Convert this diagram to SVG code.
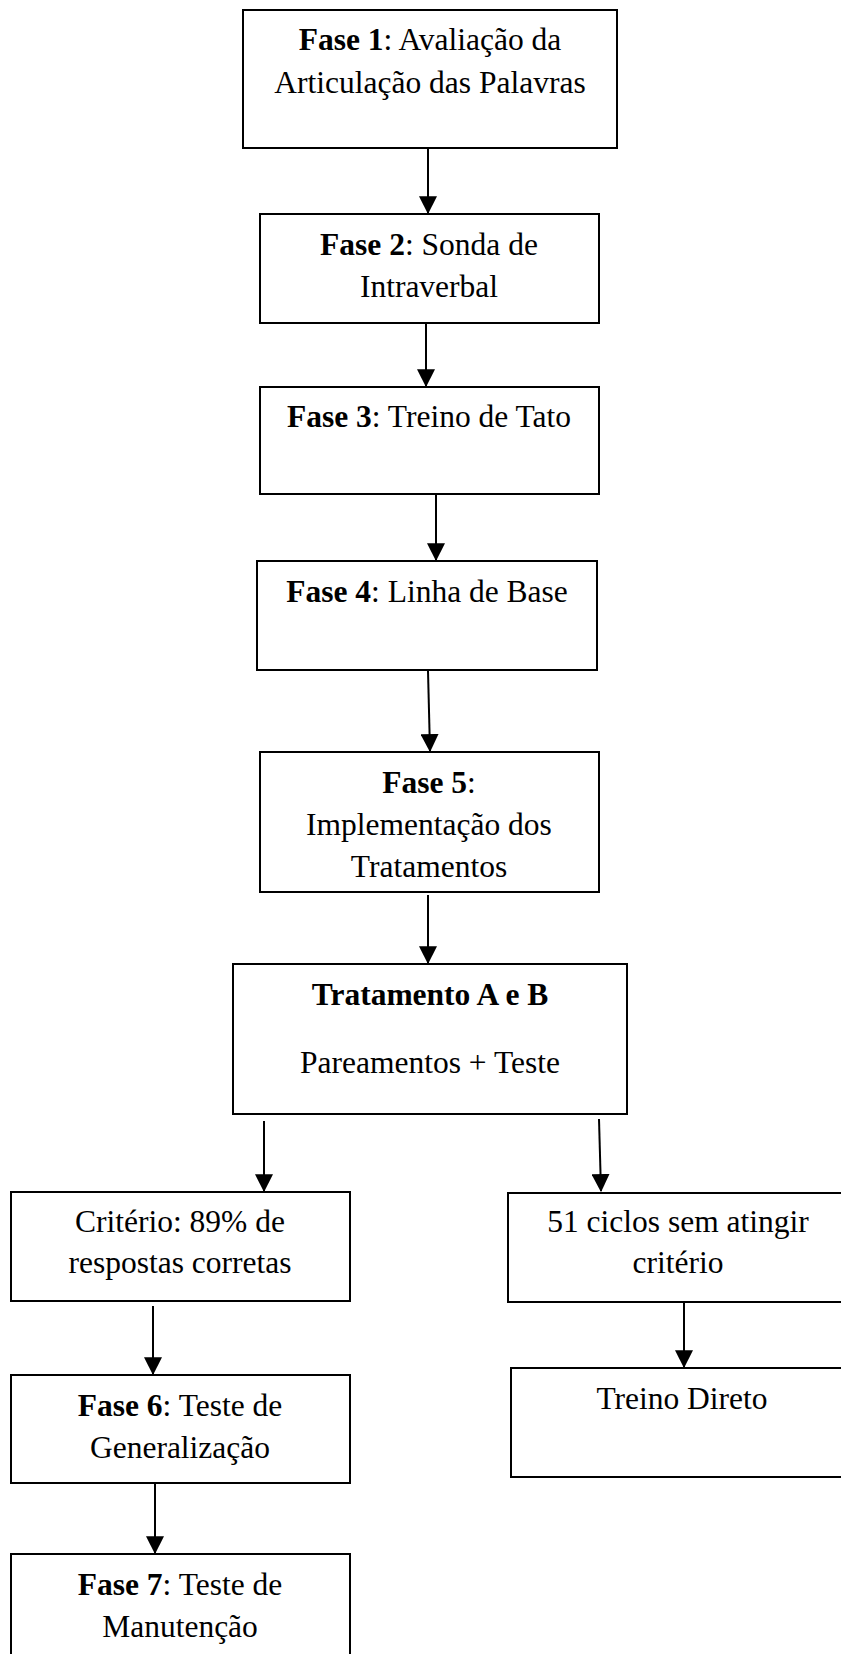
<svg xmlns="http://www.w3.org/2000/svg" width="841" height="1654" viewBox="0 0 841 1654">
<style>
.box{fill:#fff;stroke:#000;stroke-width:2}
.t{font-family:"Liberation Serif","Times New Roman",serif;font-size:31.5px;fill:#000;text-anchor:middle}
.b{font-weight:bold}
.c{stroke:#000;stroke-width:2;fill:none;marker-end:url(#ah)}
</style>
<defs>
<marker id="ah" markerUnits="userSpaceOnUse" markerWidth="18" markerHeight="18" viewBox="0 0 16 16" refX="15" refY="8" orient="auto">
<path d="M0,0 L16,8 L0,16 Z" fill="#000"/>
</marker>
</defs>
<rect width="841" height="1654" fill="#fff"/>
<g id="connectors">
<line class="c" x1="428" y1="149" x2="428" y2="213"/>
<line class="c" x1="426" y1="324" x2="426" y2="386"/>
<line class="c" x1="436" y1="495" x2="436" y2="560"/>
<line class="c" x1="428" y1="671" x2="430" y2="751"/>
<line class="c" x1="428" y1="895" x2="428" y2="963"/>
<line class="c" x1="264" y1="1121" x2="264" y2="1191"/>
<line class="c" x1="599" y1="1119" x2="601" y2="1191"/>
<line class="c" x1="153" y1="1306" x2="153" y2="1374"/>
<line class="c" x1="684" y1="1302" x2="684" y2="1367"/>
<line class="c" x1="155" y1="1484" x2="155" y2="1553"/>
</g>
<g id="n1">
<rect class="box" x="243" y="10" width="374" height="138"/>
<text class="t" x="430" y="50"><tspan class="b">Fase 1</tspan>: Avaliação da</text>
<text class="t" x="430" y="93">Articulação das Palavras</text>
</g>
<g id="n2">
<rect class="box" x="260" y="214" width="339" height="109"/>
<text class="t" x="429" y="255"><tspan class="b">Fase 2</tspan>: Sonda de</text>
<text class="t" x="429" y="297">Intraverbal</text>
</g>
<g id="n3">
<rect class="box" x="260" y="387" width="339" height="107"/>
<text class="t" x="429" y="427"><tspan class="b">Fase 3</tspan>: Treino de Tato</text>
</g>
<g id="n4">
<rect class="box" x="257" y="561" width="340" height="109"/>
<text class="t" x="427" y="602"><tspan class="b">Fase 4</tspan>: Linha de Base</text>
</g>
<g id="n5">
<rect class="box" x="260" y="752" width="339" height="140"/>
<text class="t" x="429" y="793"><tspan class="b">Fase 5</tspan>:</text>
<text class="t" x="429" y="835">Implementação dos</text>
<text class="t" x="429" y="877">Tratamentos</text>
</g>
<g id="n6">
<rect class="box" x="233" y="964" width="394" height="150"/>
<text class="t b" x="430" y="1005">Tratamento A e B</text>
<text class="t" x="430" y="1073">Pareamentos + Teste</text>
</g>
<g id="n7">
<rect class="box" x="11" y="1192" width="339" height="109"/>
<text class="t" x="180" y="1232">Critério: 89% de</text>
<text class="t" x="180" y="1273">respostas corretas</text>
</g>
<g id="n8">
<rect class="box" x="508" y="1193" width="345" height="109"/>
<text class="t" x="678" y="1232">51 ciclos sem atingir</text>
<text class="t" x="678" y="1273">critério</text>
</g>
<g id="n9">
<rect class="box" x="11" y="1375" width="339" height="108"/>
<text class="t" x="180" y="1416"><tspan class="b">Fase 6</tspan>: Teste de</text>
<text class="t" x="180" y="1458">Generalização</text>
</g>
<g id="n10">
<rect class="box" x="511" y="1368" width="345" height="109"/>
<text class="t" x="682" y="1409">Treino Direto</text>
</g>
<g id="n11">
<rect class="box" x="11" y="1554" width="339" height="110"/>
<text class="t" x="180" y="1595"><tspan class="b">Fase 7</tspan>: Teste de</text>
<text class="t" x="180" y="1637">Manutenção</text>
</g>
</svg>
